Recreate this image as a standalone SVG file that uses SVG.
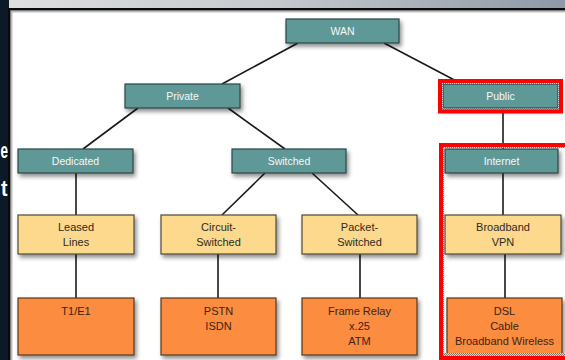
<svg xmlns="http://www.w3.org/2000/svg" width="565" height="360" viewBox="0 0 565 360">
<defs>
<linearGradient id="topg" x1="0" y1="0" x2="1" y2="0">
<stop offset="0" stop-color="#dedfe0"/>
<stop offset="0.5" stop-color="#c4c8cd"/>
<stop offset="1" stop-color="#8e99a6"/>
</linearGradient>
<filter id="sh" x="-10%" y="-20%" width="130%" height="150%">
<feDropShadow dx="2" dy="3" stdDeviation="2" flood-color="#000" flood-opacity="0.45"/>
</filter>
<pattern id="chk" width="2" height="2" patternUnits="userSpaceOnUse">
<rect width="2" height="2" fill="#d8d8d8"/>
<rect width="1" height="1" fill="#777"/>
<rect x="1" y="1" width="1" height="1" fill="#777"/>
</pattern>
</defs>
<style>
.t{fill:#5f9997;stroke:#2c4545;stroke-width:1.2}
.y{fill:#fcd98c;stroke:#4f4838;stroke-width:1.2}
.o{fill:#fb8c40;stroke:#55371f;stroke-width:1.2}
.tl{font-family:"Liberation Sans",Arial,sans-serif;font-size:10.5px;fill:#f4f8f8;text-anchor:middle}
.yl{font-family:"Liberation Sans",Arial,sans-serif;font-size:11px;fill:#2e2a22;text-anchor:middle}
.ol{font-family:"Liberation Sans",Arial,sans-serif;font-size:11px;fill:#3a2414;text-anchor:middle}
.c{stroke:#1a1a1a;stroke-width:1.6;fill:none}
.red{fill:none;stroke:#ff0000;stroke-width:4}
.dots{fill:none;stroke:url(#chk);stroke-width:3}
.frag{font-family:"Liberation Sans",Arial,sans-serif;font-size:22px;font-weight:bold;fill:#ffffff}
</style>
<!-- background frame -->
<rect x="0" y="0" width="565" height="360" fill="#ffffff"/>
<rect x="0" y="0" width="565" height="9" fill="url(#topg)"/>
<rect x="0" y="0" width="9" height="360" fill="#0c1a28"/>
<rect x="8" y="8" width="557" height="2.5" fill="#0a0a0a"/>
<rect x="8" y="8" width="2.5" height="352" fill="#0a0a0a"/>
<rect x="10.5" y="10.5" width="554.5" height="1" fill="#777"/>
<rect x="10.5" y="10.5" width="1" height="350" fill="#777"/>
<rect x="11.5" y="11.5" width="553.5" height="1" fill="#bbb"/>
<rect x="11.5" y="11.5" width="1" height="349" fill="#bbb"/>
<text class="frag" x="0.5" y="158" textLength="7.5" lengthAdjust="spacingAndGlyphs">e</text>
<text class="frag" x="1" y="196" textLength="6.5" lengthAdjust="spacingAndGlyphs">t</text>
<!-- connectors -->
<g id="connectors">
<line class="c" x1="298" y1="43" x2="222" y2="84"/>
<line class="c" x1="384" y1="43" x2="462" y2="84"/>
<line class="c" x1="138" y1="108" x2="83" y2="149"/>
<line class="c" x1="228" y1="108" x2="285" y2="149"/>
<line class="c" x1="503" y1="108" x2="503" y2="149"/>
<line class="c" x1="76" y1="173" x2="76" y2="215"/>
<line class="c" x1="265" y1="173" x2="222" y2="215"/>
<line class="c" x1="312" y1="173" x2="358" y2="215"/>
<line class="c" x1="503" y1="173" x2="503" y2="215"/>
<line class="c" x1="76" y1="254" x2="76" y2="298"/>
<line class="c" x1="218" y1="254" x2="218" y2="298"/>
<line class="c" x1="360" y1="254" x2="360" y2="298"/>
<line class="c" x1="505" y1="254" x2="505" y2="298"/>
</g>
<!-- teal nodes -->
<g id="wan"><rect class="t" x="286" y="19" width="113" height="24" filter="url(#sh)"/><text class="tl" x="342.5" y="35">WAN</text></g>
<g id="private"><rect class="t" x="125" y="84" width="115" height="24" filter="url(#sh)"/><text class="tl" x="182.5" y="100">Private</text></g>
<g id="public"><rect class="t" x="443" y="84" width="115" height="24" filter="url(#sh)"/><text class="tl" x="500.5" y="100">Public</text></g>
<g id="dedicated"><rect class="t" x="18" y="149" width="115" height="24" filter="url(#sh)"/><text class="tl" x="75.5" y="165">Dedicated</text></g>
<g id="switched"><rect class="t" x="232" y="149" width="114" height="24" filter="url(#sh)"/><text class="tl" x="289" y="165">Switched</text></g>
<g id="internet"><rect class="t" x="445" y="149" width="113" height="24" filter="url(#sh)"/><text class="tl" x="501.5" y="165">Internet</text></g>
<!-- yellow nodes -->
<g id="leased"><rect class="y" x="18" y="215" width="116" height="39" filter="url(#sh)"/><text class="yl" x="76" y="231">Leased</text><text class="yl" x="76" y="246">Lines</text></g>
<g id="circuit"><rect class="y" x="161" y="215" width="115" height="39" filter="url(#sh)"/><text class="yl" x="218.5" y="231">Circuit-</text><text class="yl" x="218.5" y="246">Switched</text></g>
<g id="packet"><rect class="y" x="302" y="215" width="115" height="39" filter="url(#sh)"/><text class="yl" x="359.5" y="231">Packet-</text><text class="yl" x="359.5" y="246">Switched</text></g>
<g id="broadband"><rect class="y" x="445" y="215" width="116" height="39" filter="url(#sh)"/><text class="yl" x="503" y="231">Broadband</text><text class="yl" x="503" y="246">VPN</text></g>
<!-- orange nodes -->
<g id="t1e1"><rect class="o" x="18" y="298" width="116" height="57" filter="url(#sh)"/><text class="ol" x="76" y="315">T1/E1</text></g>
<g id="pstn"><rect class="o" x="161" y="298" width="115" height="57" filter="url(#sh)"/><text class="ol" x="218.5" y="315">PSTN</text><text class="ol" x="218.5" y="330">ISDN</text></g>
<g id="frame"><rect class="o" x="302" y="298" width="115" height="57" filter="url(#sh)"/><text class="ol" x="359.5" y="315">Frame Relay</text><text class="ol" x="359.5" y="330">x.25</text><text class="ol" x="359.5" y="345">ATM</text></g>
<g id="dsl"><rect class="o" x="447" y="298" width="115" height="57" filter="url(#sh)"/><text class="ol" x="504.5" y="315">DSL</text><text class="ol" x="504.5" y="330">Cable</text><text class="ol" x="504.5" y="345">Broadband Wireless</text></g>
<!-- highlight frames -->
<g id="highlights">
<rect class="dots" x="441.5" y="82.5" width="118" height="27.5"/>
<rect class="red" x="440" y="81" width="121" height="30.5"/>
<rect class="dots" x="442.5" y="146.5" width="130" height="208"/>
<rect class="red" x="441" y="145" width="135" height="213"/>
</g>
</svg>
